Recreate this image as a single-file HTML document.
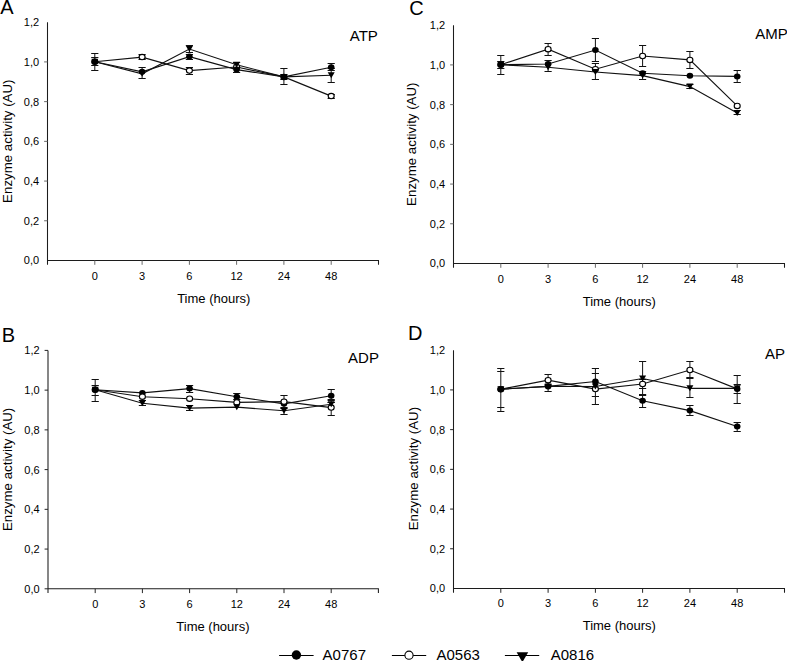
<!DOCTYPE html>
<html><head><meta charset="utf-8"><title>Enzyme activity</title>
<style>html,body{margin:0;padding:0;background:#fff;}body{width:787px;height:661px;overflow:hidden;}svg{display:block;font-family:"Liberation Sans", sans-serif;}text{fill:#000;}</style>
</head><body>
<svg width="787" height="661" viewBox="0 0 787 661">
<rect width="787" height="661" fill="#fff"/>
<g><path d="M47.5 22.2V264.8M47.5 260.5H378.5V264.8" fill="none" stroke="#1c1c1c" stroke-width="1.05"/>
<text x="39.1" y="264.4" text-anchor="end" font-size="11">0,0</text>
<path d="M44.1 220.78H47.5" stroke="#6a6a6a" stroke-width="1"/>
<text x="39.1" y="224.68" text-anchor="end" font-size="11">0,2</text>
<path d="M44.1 181.07H47.5" stroke="#6a6a6a" stroke-width="1"/>
<text x="39.1" y="184.97" text-anchor="end" font-size="11">0,4</text>
<path d="M44.1 141.35H47.5" stroke="#6a6a6a" stroke-width="1"/>
<text x="39.1" y="145.25" text-anchor="end" font-size="11">0,6</text>
<path d="M44.1 101.63H47.5" stroke="#6a6a6a" stroke-width="1"/>
<text x="39.1" y="105.53" text-anchor="end" font-size="11">0,8</text>
<path d="M44.1 61.92H47.5" stroke="#6a6a6a" stroke-width="1"/>
<text x="39.1" y="65.82" text-anchor="end" font-size="11">1,0</text>
<text x="39.1" y="26.1" text-anchor="end" font-size="11">1,2</text>
<path d="M94.8 260.5V264.8" stroke="#6a6a6a" stroke-width="1"/>
<text x="94.8" y="280.3" text-anchor="middle" font-size="11">0</text>
<path d="M142.1 260.5V264.8" stroke="#6a6a6a" stroke-width="1"/>
<text x="142.1" y="280.3" text-anchor="middle" font-size="11">3</text>
<path d="M189.4 260.5V264.8" stroke="#6a6a6a" stroke-width="1"/>
<text x="189.4" y="280.3" text-anchor="middle" font-size="11">6</text>
<path d="M236.6 260.5V264.8" stroke="#6a6a6a" stroke-width="1"/>
<text x="236.6" y="280.3" text-anchor="middle" font-size="11">12</text>
<path d="M283.9 260.5V264.8" stroke="#6a6a6a" stroke-width="1"/>
<text x="283.9" y="280.3" text-anchor="middle" font-size="11">24</text>
<path d="M331.2 260.5V264.8" stroke="#6a6a6a" stroke-width="1"/>
<text x="331.2" y="280.3" text-anchor="middle" font-size="11">48</text>
<path d="M94.8 53.5V70.5" stroke="#111" stroke-width="1"/>
<path d="M142.1 54.5V59.5M142.1 67.5V78.5" stroke="#111" stroke-width="1"/>
<path d="M189.4 45.5V52.5M189.4 54.5V59.5M189.4 67.5V74.5" stroke="#111" stroke-width="1"/>
<path d="M236.6 62.5V72.5" stroke="#111" stroke-width="1"/>
<path d="M283.9 68.5V84.5" stroke="#111" stroke-width="1"/>
<path d="M331.2 63.5V82.5M331.2 94.5V98.5" stroke="#111" stroke-width="1"/>
<path d="M91.2 53.5H98.4M91.2 70.5H98.4" stroke="#111" stroke-width="1"/>
<path d="M91.2 57.5H98.4M91.2 65.5H98.4" stroke="#111" stroke-width="1"/>
<path d="M138.5 54.5H145.7M138.5 59.5H145.7" stroke="#111" stroke-width="1"/>
<path d="M138.5 67.5H145.7M138.5 78.5H145.7" stroke="#111" stroke-width="1"/>
<path d="M185.8 45.5H193M185.8 52.5H193" stroke="#111" stroke-width="1"/>
<path d="M185.8 54.5H193M185.8 59.5H193" stroke="#111" stroke-width="1"/>
<path d="M185.8 67.5H193M185.8 74.5H193" stroke="#111" stroke-width="1"/>
<path d="M233 62.5H240.2M233 67.5H240.2" stroke="#111" stroke-width="1"/>
<path d="M233 67.5H240.2M233 72.5H240.2" stroke="#111" stroke-width="1"/>
<path d="M280.3 68.5H287.5M280.3 84.5H287.5" stroke="#111" stroke-width="1"/>
<path d="M280.3 74.5H287.5M280.3 79.5H287.5" stroke="#111" stroke-width="1"/>
<path d="M327.6 63.5H334.8M327.6 70.5H334.8" stroke="#111" stroke-width="1"/>
<path d="M327.6 68.5H334.8M327.6 82.5H334.8" stroke="#111" stroke-width="1"/>
<path d="M327.6 94.5H334.8M327.6 98.5H334.8" stroke="#111" stroke-width="1"/>
<polyline points="94.8,61.7 142.1,71.8 189.4,56.6 236.6,69.6 283.9,76.9 331.2,67.2" fill="none" stroke="#111" stroke-width="1.15"/>
<polyline points="94.8,61.7 142.1,57.1 189.4,70.6 236.6,67 283.9,76.9 331.2,96.1" fill="none" stroke="#111" stroke-width="1.15"/>
<polyline points="94.8,61.7 142.1,73.8 189.4,49 236.6,64.8 283.9,76.9 331.2,75.2" fill="none" stroke="#111" stroke-width="1.15"/>
<ellipse cx="94.8" cy="61.7" rx="3.0" ry="2.7" fill="#fff" stroke="#000" stroke-width="1.1"/>
<ellipse cx="236.6" cy="67" rx="3.0" ry="2.7" fill="#fff" stroke="#000" stroke-width="1.1"/>
<ellipse cx="283.9" cy="76.9" rx="3.0" ry="2.7" fill="#fff" stroke="#000" stroke-width="1.1"/>
<ellipse cx="94.8" cy="61.7" rx="3.3" ry="3.0" fill="#000"/>
<ellipse cx="142.1" cy="71.8" rx="3.3" ry="3.0" fill="#000"/>
<ellipse cx="189.4" cy="56.6" rx="3.3" ry="3.0" fill="#000"/>
<ellipse cx="236.6" cy="69.6" rx="3.3" ry="3.0" fill="#000"/>
<ellipse cx="283.9" cy="76.9" rx="3.3" ry="3.0" fill="#000"/>
<ellipse cx="331.2" cy="67.2" rx="3.3" ry="3.0" fill="#000"/>
<ellipse cx="142.1" cy="57.1" rx="3.0" ry="2.7" fill="#fff" stroke="#000" stroke-width="1.1"/>
<ellipse cx="189.4" cy="70.6" rx="3.0" ry="2.7" fill="#fff" stroke="#000" stroke-width="1.1"/>
<ellipse cx="331.2" cy="96.1" rx="3.0" ry="2.7" fill="#fff" stroke="#000" stroke-width="1.1"/>
<path d="M91.3 58.7H98.3L94.8 64.7Z" fill="#000"/>
<path d="M138.6 70.8H145.6L142.1 76.8Z" fill="#000"/>
<path d="M185.9 46H192.9L189.4 52Z" fill="#000"/>
<path d="M233.1 61.8H240.1L236.6 67.8Z" fill="#000"/>
<path d="M280.4 73.9H287.4L283.9 79.9Z" fill="#000"/>
<path d="M327.7 72.2H334.7L331.2 78.2Z" fill="#000"/></g>
<g><path d="M453.5 25.2V267.8M453.5 263.5H784.5V267.8" fill="none" stroke="#1c1c1c" stroke-width="1.05"/>
<text x="445.1" y="267.4" text-anchor="end" font-size="11">0,0</text>
<path d="M450.1 223.78H453.5" stroke="#6a6a6a" stroke-width="1"/>
<text x="445.1" y="227.68" text-anchor="end" font-size="11">0,2</text>
<path d="M450.1 184.07H453.5" stroke="#6a6a6a" stroke-width="1"/>
<text x="445.1" y="187.97" text-anchor="end" font-size="11">0,4</text>
<path d="M450.1 144.35H453.5" stroke="#6a6a6a" stroke-width="1"/>
<text x="445.1" y="148.25" text-anchor="end" font-size="11">0,6</text>
<path d="M450.1 104.63H453.5" stroke="#6a6a6a" stroke-width="1"/>
<text x="445.1" y="108.53" text-anchor="end" font-size="11">0,8</text>
<path d="M450.1 64.92H453.5" stroke="#6a6a6a" stroke-width="1"/>
<text x="445.1" y="68.82" text-anchor="end" font-size="11">1,0</text>
<text x="445.1" y="29.1" text-anchor="end" font-size="11">1,2</text>
<path d="M500.8 263.5V267.8" stroke="#6a6a6a" stroke-width="1"/>
<text x="500.8" y="283.3" text-anchor="middle" font-size="11">0</text>
<path d="M548.1 263.5V267.8" stroke="#6a6a6a" stroke-width="1"/>
<text x="548.1" y="283.3" text-anchor="middle" font-size="11">3</text>
<path d="M595.4 263.5V267.8" stroke="#6a6a6a" stroke-width="1"/>
<text x="595.4" y="283.3" text-anchor="middle" font-size="11">6</text>
<path d="M642.6 263.5V267.8" stroke="#6a6a6a" stroke-width="1"/>
<text x="642.6" y="283.3" text-anchor="middle" font-size="11">12</text>
<path d="M689.9 263.5V267.8" stroke="#6a6a6a" stroke-width="1"/>
<text x="689.9" y="283.3" text-anchor="middle" font-size="11">24</text>
<path d="M737.2 263.5V267.8" stroke="#6a6a6a" stroke-width="1"/>
<text x="737.2" y="283.3" text-anchor="middle" font-size="11">48</text>
<path d="M500.8 55.5V74.5" stroke="#111" stroke-width="1"/>
<path d="M548.1 43.5V55.5M548.1 60.5V71.5" stroke="#111" stroke-width="1"/>
<path d="M595.4 38.5V61.5M595.4 63.5V79.5" stroke="#111" stroke-width="1"/>
<path d="M642.6 45.5V66.5M642.6 71.5V79.5" stroke="#111" stroke-width="1"/>
<path d="M689.9 51.5V68.5M689.9 84.5V88.5" stroke="#111" stroke-width="1"/>
<path d="M737.2 70.5V82.5M737.2 110.5V114.5" stroke="#111" stroke-width="1"/>
<path d="M497.2 55.5H504.4M497.2 74.5H504.4" stroke="#111" stroke-width="1"/>
<path d="M497.2 61.5H504.4M497.2 68.5H504.4" stroke="#111" stroke-width="1"/>
<path d="M544.5 43.5H551.7M544.5 55.5H551.7" stroke="#111" stroke-width="1"/>
<path d="M544.5 60.5H551.7M544.5 71.5H551.7" stroke="#111" stroke-width="1"/>
<path d="M591.8 38.5H599M591.8 61.5H599" stroke="#111" stroke-width="1"/>
<path d="M591.8 63.5H599M591.8 79.5H599" stroke="#111" stroke-width="1"/>
<path d="M639 45.5H646.2M639 66.5H646.2" stroke="#111" stroke-width="1"/>
<path d="M639 71.5H646.2M639 79.5H646.2" stroke="#111" stroke-width="1"/>
<path d="M686.3 51.5H693.5M686.3 68.5H693.5" stroke="#111" stroke-width="1"/>
<path d="M686.3 84.5H693.5M686.3 88.5H693.5" stroke="#111" stroke-width="1"/>
<path d="M733.6 70.5H740.8M733.6 82.5H740.8" stroke="#111" stroke-width="1"/>
<path d="M733.6 110.5H740.8M733.6 114.5H740.8" stroke="#111" stroke-width="1"/>
<polyline points="500.8,64.7 548.1,64 595.4,50 642.6,73.3 689.9,75.8 737.2,76.4" fill="none" stroke="#111" stroke-width="1.15"/>
<polyline points="500.8,64.7 548.1,49.2 595.4,69.2 642.6,56 689.9,59.9 737.2,105.9" fill="none" stroke="#111" stroke-width="1.15"/>
<polyline points="500.8,64.7 548.1,67.2 595.4,72 642.6,75.6 689.9,86.6 737.2,113" fill="none" stroke="#111" stroke-width="1.15"/>
<ellipse cx="500.8" cy="64.7" rx="3.0" ry="2.7" fill="#fff" stroke="#000" stroke-width="1.1"/>
<ellipse cx="500.8" cy="64.7" rx="3.3" ry="3.0" fill="#000"/>
<ellipse cx="548.1" cy="64" rx="3.3" ry="3.0" fill="#000"/>
<ellipse cx="595.4" cy="50" rx="3.3" ry="3.0" fill="#000"/>
<ellipse cx="642.6" cy="73.3" rx="3.3" ry="3.0" fill="#000"/>
<ellipse cx="689.9" cy="75.8" rx="3.3" ry="3.0" fill="#000"/>
<ellipse cx="737.2" cy="76.4" rx="3.3" ry="3.0" fill="#000"/>
<ellipse cx="548.1" cy="49.2" rx="3.0" ry="2.7" fill="#fff" stroke="#000" stroke-width="1.1"/>
<ellipse cx="595.4" cy="69.2" rx="3.0" ry="2.7" fill="#fff" stroke="#000" stroke-width="1.1"/>
<ellipse cx="642.6" cy="56" rx="3.0" ry="2.7" fill="#fff" stroke="#000" stroke-width="1.1"/>
<ellipse cx="689.9" cy="59.9" rx="3.0" ry="2.7" fill="#fff" stroke="#000" stroke-width="1.1"/>
<ellipse cx="737.2" cy="105.9" rx="3.0" ry="2.7" fill="#fff" stroke="#000" stroke-width="1.1"/>
<path d="M497.3 61.7H504.3L500.8 67.7Z" fill="#000"/>
<path d="M544.6 64.2H551.6L548.1 70.2Z" fill="#000"/>
<path d="M591.9 69H598.9L595.4 75Z" fill="#000"/>
<path d="M639.1 72.6H646.1L642.6 78.6Z" fill="#000"/>
<path d="M686.4 83.6H693.4L689.9 89.6Z" fill="#000"/>
<path d="M733.7 110H740.7L737.2 116Z" fill="#000"/></g>
<g><path d="M48 350.4V593.1M48 588.8H378.4V593.1" fill="none" stroke="#1c1c1c" stroke-width="1.05"/>
<path d="M44.6 588.8H48" stroke="#262626" stroke-width="1"/>
<text x="39.6" y="592.7" text-anchor="end" font-size="11">0,0</text>
<path d="M44.6 549.07H48" stroke="#262626" stroke-width="1"/>
<text x="39.6" y="552.97" text-anchor="end" font-size="11">0,2</text>
<path d="M44.6 509.33H48" stroke="#262626" stroke-width="1"/>
<text x="39.6" y="513.23" text-anchor="end" font-size="11">0,4</text>
<path d="M44.6 469.6H48" stroke="#262626" stroke-width="1"/>
<text x="39.6" y="473.5" text-anchor="end" font-size="11">0,6</text>
<path d="M44.6 429.87H48" stroke="#262626" stroke-width="1"/>
<text x="39.6" y="433.77" text-anchor="end" font-size="11">0,8</text>
<path d="M44.6 390.13H48" stroke="#262626" stroke-width="1"/>
<text x="39.6" y="394.03" text-anchor="end" font-size="11">1,0</text>
<path d="M44.6 350.4H48" stroke="#262626" stroke-width="1"/>
<text x="39.6" y="354.3" text-anchor="end" font-size="11">1,2</text>
<path d="M95.2 588.8V593.1" stroke="#262626" stroke-width="1"/>
<text x="95.2" y="607.7" text-anchor="middle" font-size="11">0</text>
<path d="M142.4 588.8V593.1" stroke="#262626" stroke-width="1"/>
<text x="142.4" y="607.7" text-anchor="middle" font-size="11">3</text>
<path d="M189.6 588.8V593.1" stroke="#262626" stroke-width="1"/>
<text x="189.6" y="607.7" text-anchor="middle" font-size="11">6</text>
<path d="M236.8 588.8V593.1" stroke="#262626" stroke-width="1"/>
<text x="236.8" y="607.7" text-anchor="middle" font-size="11">12</text>
<path d="M284 588.8V593.1" stroke="#262626" stroke-width="1"/>
<text x="284" y="607.7" text-anchor="middle" font-size="11">24</text>
<path d="M331.2 588.8V593.1" stroke="#262626" stroke-width="1"/>
<text x="331.2" y="607.7" text-anchor="middle" font-size="11">48</text>
<path d="M95.2 379.5V401.5" stroke="#111" stroke-width="1"/>
<path d="M142.4 400.5V405.5" stroke="#111" stroke-width="1"/>
<path d="M189.6 385.5V392.5M189.6 405.5V410.5" stroke="#111" stroke-width="1"/>
<path d="M236.8 393.5V399.5" stroke="#111" stroke-width="1"/>
<path d="M284 395.5V414.5" stroke="#111" stroke-width="1"/>
<path d="M331.2 389.5V415.5" stroke="#111" stroke-width="1"/>
<path d="M91.6 379.5H98.8M91.6 401.5H98.8" stroke="#111" stroke-width="1"/>
<path d="M91.6 385.5H98.8M91.6 395.5H98.8" stroke="#111" stroke-width="1"/>
<path d="M138.8 400.5H146M138.8 405.5H146" stroke="#111" stroke-width="1"/>
<path d="M186 385.5H193.2M186 392.5H193.2" stroke="#111" stroke-width="1"/>
<path d="M186 405.5H193.2M186 410.5H193.2" stroke="#111" stroke-width="1"/>
<path d="M233.2 393.5H240.4M233.2 399.5H240.4" stroke="#111" stroke-width="1"/>
<path d="M280.4 395.5H287.6M280.4 408.5H287.6" stroke="#111" stroke-width="1"/>
<path d="M280.4 407.5H287.6M280.4 414.5H287.6" stroke="#111" stroke-width="1"/>
<path d="M327.6 389.5H334.8M327.6 402.5H334.8" stroke="#111" stroke-width="1"/>
<path d="M327.6 399.5H334.8M327.6 415.5H334.8" stroke="#111" stroke-width="1"/>
<path d="M327.6 400.5H334.8M327.6 402.5H334.8" stroke="#111" stroke-width="1"/>
<polyline points="95.2,389.8 142.4,392.9 189.6,388.6 236.8,396.7 284,403.8 331.2,395.7" fill="none" stroke="#111" stroke-width="1.15"/>
<polyline points="95.2,389.8 142.4,396.7 189.6,398.7 236.8,402.4 284,401.7 331.2,407.6" fill="none" stroke="#111" stroke-width="1.15"/>
<polyline points="95.2,389.8 142.4,403.2 189.6,408.1 236.8,407.2 284,410.7 331.2,404.3" fill="none" stroke="#111" stroke-width="1.15"/>
<ellipse cx="95.2" cy="389.8" rx="3.0" ry="2.7" fill="#fff" stroke="#000" stroke-width="1.1"/>
<ellipse cx="95.2" cy="389.8" rx="3.3" ry="3.0" fill="#000"/>
<ellipse cx="142.4" cy="392.9" rx="3.3" ry="3.0" fill="#000"/>
<ellipse cx="189.6" cy="388.6" rx="3.3" ry="3.0" fill="#000"/>
<ellipse cx="236.8" cy="396.7" rx="3.3" ry="3.0" fill="#000"/>
<ellipse cx="284" cy="403.8" rx="3.3" ry="3.0" fill="#000"/>
<ellipse cx="331.2" cy="395.7" rx="3.3" ry="3.0" fill="#000"/>
<ellipse cx="142.4" cy="396.7" rx="3.0" ry="2.7" fill="#fff" stroke="#000" stroke-width="1.1"/>
<ellipse cx="189.6" cy="398.7" rx="3.0" ry="2.7" fill="#fff" stroke="#000" stroke-width="1.1"/>
<ellipse cx="236.8" cy="402.4" rx="3.0" ry="2.7" fill="#fff" stroke="#000" stroke-width="1.1"/>
<ellipse cx="284" cy="401.7" rx="3.0" ry="2.7" fill="#fff" stroke="#000" stroke-width="1.1"/>
<ellipse cx="331.2" cy="407.6" rx="3.0" ry="2.7" fill="#fff" stroke="#000" stroke-width="1.1"/>
<path d="M91.7 386.8H98.7L95.2 392.8Z" fill="#000"/>
<path d="M138.9 400.2H145.9L142.4 406.2Z" fill="#000"/>
<path d="M186.1 405.1H193.1L189.6 411.1Z" fill="#000"/>
<path d="M233.3 404.2H240.3L236.8 410.2Z" fill="#000"/>
<path d="M280.5 407.7H287.5L284 413.7Z" fill="#000"/>
<path d="M327.7 401.3H334.7L331.2 407.3Z" fill="#000"/></g>
<g><path d="M453.5 350.2V592.8M453.5 588.5H784.5V592.8" fill="none" stroke="#1c1c1c" stroke-width="1.05"/>
<text x="445.1" y="592.4" text-anchor="end" font-size="11">0,0</text>
<path d="M450.1 548.78H453.5" stroke="#262626" stroke-width="1"/>
<text x="445.1" y="552.68" text-anchor="end" font-size="11">0,2</text>
<path d="M450.1 509.07H453.5" stroke="#262626" stroke-width="1"/>
<text x="445.1" y="512.97" text-anchor="end" font-size="11">0,4</text>
<path d="M450.1 469.35H453.5" stroke="#262626" stroke-width="1"/>
<text x="445.1" y="473.25" text-anchor="end" font-size="11">0,6</text>
<path d="M450.1 429.63H453.5" stroke="#262626" stroke-width="1"/>
<text x="445.1" y="433.53" text-anchor="end" font-size="11">0,8</text>
<path d="M450.1 389.92H453.5" stroke="#262626" stroke-width="1"/>
<text x="445.1" y="393.82" text-anchor="end" font-size="11">1,0</text>
<text x="445.1" y="354.1" text-anchor="end" font-size="11">1,2</text>
<path d="M500.8 588.5V592.8" stroke="#262626" stroke-width="1"/>
<text x="500.8" y="607.4" text-anchor="middle" font-size="11">0</text>
<path d="M548.1 588.5V592.8" stroke="#262626" stroke-width="1"/>
<text x="548.1" y="607.4" text-anchor="middle" font-size="11">3</text>
<path d="M595.4 588.5V592.8" stroke="#262626" stroke-width="1"/>
<text x="595.4" y="607.4" text-anchor="middle" font-size="11">6</text>
<path d="M642.6 588.5V592.8" stroke="#262626" stroke-width="1"/>
<text x="642.6" y="607.4" text-anchor="middle" font-size="11">12</text>
<path d="M689.9 588.5V592.8" stroke="#262626" stroke-width="1"/>
<text x="689.9" y="607.4" text-anchor="middle" font-size="11">24</text>
<path d="M737.2 588.5V592.8" stroke="#262626" stroke-width="1"/>
<text x="737.2" y="607.4" text-anchor="middle" font-size="11">48</text>
<path d="M500.8 368.5V411.5" stroke="#111" stroke-width="1"/>
<path d="M548.1 374.5V391.5" stroke="#111" stroke-width="1"/>
<path d="M595.4 368.5V404.5" stroke="#111" stroke-width="1"/>
<path d="M642.6 361.5V407.5" stroke="#111" stroke-width="1"/>
<path d="M689.9 361.5V397.5M689.9 405.5V415.5" stroke="#111" stroke-width="1"/>
<path d="M737.2 375.5V403.5M737.2 422.5V431.5" stroke="#111" stroke-width="1"/>
<path d="M497.2 368.5H504.4M497.2 411.5H504.4" stroke="#111" stroke-width="1"/>
<path d="M497.2 371.5H504.4M497.2 407.5H504.4" stroke="#111" stroke-width="1"/>
<path d="M544.5 374.5H551.7M544.5 385.5H551.7" stroke="#111" stroke-width="1"/>
<path d="M544.5 384.5H551.7M544.5 391.5H551.7" stroke="#111" stroke-width="1"/>
<path d="M591.8 368.5H599M591.8 396.5H599" stroke="#111" stroke-width="1"/>
<path d="M591.8 373.5H599M591.8 404.5H599" stroke="#111" stroke-width="1"/>
<path d="M639 361.5H646.2M639 395.5H646.2" stroke="#111" stroke-width="1"/>
<path d="M639 379.5H646.2M639 388.5H646.2" stroke="#111" stroke-width="1"/>
<path d="M639 394.5H646.2M639 407.5H646.2" stroke="#111" stroke-width="1"/>
<path d="M686.3 361.5H693.5M686.3 378.5H693.5" stroke="#111" stroke-width="1"/>
<path d="M686.3 377.5H693.5M686.3 397.5H693.5" stroke="#111" stroke-width="1"/>
<path d="M686.3 405.5H693.5M686.3 415.5H693.5" stroke="#111" stroke-width="1"/>
<path d="M733.6 375.5H740.8M733.6 403.5H740.8" stroke="#111" stroke-width="1"/>
<path d="M733.6 384.5H740.8M733.6 393.5H740.8" stroke="#111" stroke-width="1"/>
<path d="M733.6 422.5H740.8M733.6 431.5H740.8" stroke="#111" stroke-width="1"/>
<polyline points="500.8,389.2 548.1,386.4 595.4,381.5 642.6,400.8 689.9,410.6 737.2,426.5" fill="none" stroke="#111" stroke-width="1.15"/>
<polyline points="500.8,389.2 548.1,380.2 595.4,389.1 642.6,384 689.9,370 737.2,388.9" fill="none" stroke="#111" stroke-width="1.15"/>
<polyline points="500.8,389.2 548.1,386.4 595.4,386.5 642.6,378.5 689.9,388.3 737.2,388.3" fill="none" stroke="#111" stroke-width="1.15"/>
<ellipse cx="500.8" cy="389.2" rx="3.0" ry="2.7" fill="#fff" stroke="#000" stroke-width="1.1"/>
<ellipse cx="500.8" cy="389.2" rx="3.3" ry="3.0" fill="#000"/>
<ellipse cx="548.1" cy="386.4" rx="3.3" ry="3.0" fill="#000"/>
<ellipse cx="595.4" cy="381.5" rx="3.3" ry="3.0" fill="#000"/>
<ellipse cx="642.6" cy="400.8" rx="3.3" ry="3.0" fill="#000"/>
<ellipse cx="689.9" cy="410.6" rx="3.3" ry="3.0" fill="#000"/>
<ellipse cx="737.2" cy="426.5" rx="3.3" ry="3.0" fill="#000"/>
<ellipse cx="548.1" cy="380.2" rx="3.0" ry="2.7" fill="#fff" stroke="#000" stroke-width="1.1"/>
<ellipse cx="595.4" cy="389.1" rx="3.0" ry="2.7" fill="#fff" stroke="#000" stroke-width="1.1"/>
<ellipse cx="642.6" cy="384" rx="3.0" ry="2.7" fill="#fff" stroke="#000" stroke-width="1.1"/>
<ellipse cx="689.9" cy="370" rx="3.0" ry="2.7" fill="#fff" stroke="#000" stroke-width="1.1"/>
<ellipse cx="737.2" cy="388.9" rx="3.3" ry="3.0" fill="#000"/>
<path d="M497.3 386.2H504.3L500.8 392.2Z" fill="#000"/>
<path d="M544.6 383.4H551.6L548.1 389.4Z" fill="#000"/>
<path d="M591.9 383.5H598.9L595.4 389.5Z" fill="#000"/>
<path d="M639.1 375.5H646.1L642.6 381.5Z" fill="#000"/>
<path d="M686.4 385.3H693.4L689.9 391.3Z" fill="#000"/>
<path d="M733.7 385.3H740.7L737.2 391.3Z" fill="#000"/></g>
<text transform="translate(0.2,14.4) scale(1,1.04)" font-size="20" text-anchor="start">A</text>
<text transform="translate(409.2,14.9) scale(1,1.04)" font-size="20" text-anchor="start">C</text>
<text transform="translate(1.7,341.7) scale(1,1.04)" font-size="20" text-anchor="start">B</text>
<text transform="translate(408.1,339.7) scale(1,1.04)" font-size="20" text-anchor="start">D</text>
<text x="349.8" y="40.6" font-size="15" text-anchor="start">ATP</text>
<text x="755.2" y="39" font-size="15" text-anchor="start">AMP</text>
<text x="348.1" y="363.1" font-size="15" text-anchor="start">ADP</text>
<text x="765.1" y="358.7" font-size="15" text-anchor="start">AP</text>
<text x="213.75" y="302.7" font-size="13" text-anchor="middle">Time (hours)</text>
<text x="619.3" y="305.6" font-size="13" text-anchor="middle">Time (hours)</text>
<text x="212.9" y="630.6" font-size="13" text-anchor="middle">Time (hours)</text>
<text x="619.3" y="629.7" font-size="13" text-anchor="middle">Time (hours)</text>
<text x="322.6" y="660.2" font-size="15" text-anchor="start">A0767</text>
<text x="436.5" y="660.2" font-size="15" text-anchor="start">A0563</text>
<text x="550.7" y="660.2" font-size="15" text-anchor="start">A0816</text>
<text transform="translate(12.1,141.2) rotate(-90)" x="0" y="0" font-size="13.3" text-anchor="middle">Enzyme activity (AU)</text>
<text transform="translate(416.1,144.2) rotate(-90)" x="0" y="0" font-size="13.3" text-anchor="middle">Enzyme activity (AU)</text>
<text transform="translate(12.1,469.4) rotate(-90)" x="0" y="0" font-size="13.3" text-anchor="middle">Enzyme activity (AU)</text>
<text transform="translate(418.2,468.6) rotate(-90)" x="0" y="0" font-size="13.3" text-anchor="middle">Enzyme activity (AU)</text>
<path d="M279.1 655.5H313.6" stroke="#000" stroke-width="1.1"/>
<circle cx="296.4" cy="655" r="4.7" fill="#000"/>
<path d="M391.9 655.5H426.2" stroke="#000" stroke-width="1.1"/>
<circle cx="409" cy="655.2" r="4.1" fill="#fff" stroke="#000" stroke-width="1.1"/>
<path d="M504.9 655.5H539.2" stroke="#000" stroke-width="1.1"/>
<path d="M516.6 652.2H528.2L522.4 662.2Z" fill="#000"/>
</svg></body></html>
